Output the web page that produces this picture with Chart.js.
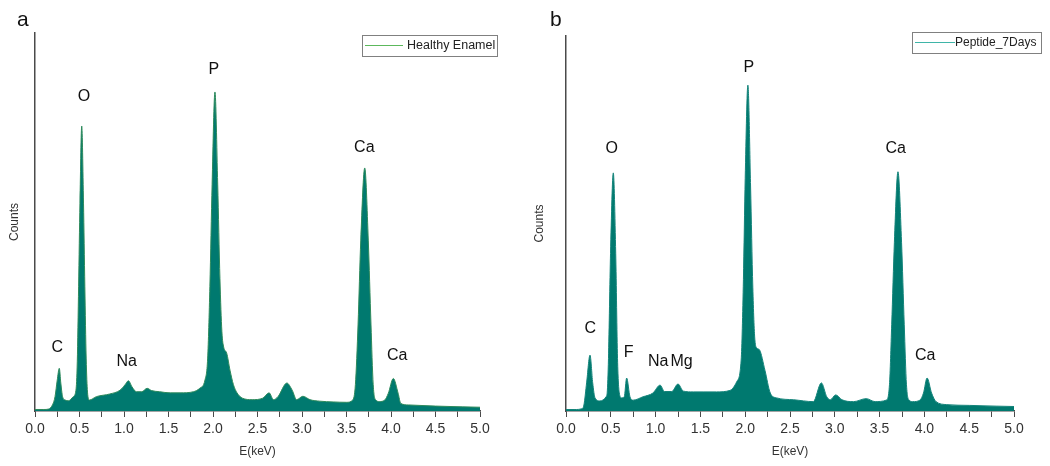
<!DOCTYPE html>
<html>
<head>
<meta charset="utf-8">
<script src="https://cdn.jsdelivr.net/npm/chart.js@4.4.1/dist/chart.umd.min.js"></script>
<style>
  body { margin: 0; background: #fff; }
  .panel { position: absolute; top: 0; width: 525px; height: 466px; }
  #panelA { left: 0; }
  #panelB { left: 525px; }
</style>
</head>
<body>
<div class="panel" id="panelA"><canvas id="chartA"></canvas></div>
<div class="panel" id="panelB"><canvas id="chartB"></canvas></div>
<script>
// x ticks (keV)
const tickLabels = ['0.0', '0.5', '1.0', '1.5', '2.0', '2.5', '3.0', '3.5', '4.0', '4.5', '5.0'];

// panel a: Healthy Enamel spectrum (energy keV, counts in % of axis height)
const energyA = [0, 0.10, 0.15, 0.20, 0.225, 0.25, 0.273, 0.29, 0.31, 0.34, 0.374, 0.43, 0.46, 0.475, 0.49, 0.505,
  0.525, 0.545, 0.56, 0.575, 0.59, 0.61, 0.69, 0.84, 0.955, 1.01, 1.05, 1.09, 1.14, 1.2, 1.26, 1.31, 1.40, 1.52, 1.63, 1.78,
  1.85, 1.91, 1.94, 1.965, 1.99, 2.022, 2.053, 2.078, 2.10, 2.12, 2.154, 2.191, 2.229, 2.27, 2.33, 2.44, 2.56, 2.63,
  2.68, 2.73, 2.83, 2.89, 2.94, 3.01, 3.09, 3.2, 3.35, 3.5, 3.57, 3.60, 3.63, 3.66, 3.705, 3.745, 3.775, 3.80, 3.83,
  3.87, 3.93, 3.97, 4.026, 4.08, 4.11, 4.2, 4.5, 4.8, 5.0];
const countsA = [0.4, 0.4, 0.5, 1.8, 3.8, 8.2, 11.3, 7.4, 3.8, 2.9, 2.7, 3.8, 5.5, 13, 33, 55,
  75.4, 55, 33, 14, 5, 2.9, 3.8, 4.5, 5.5, 6.9, 8.0, 6.4, 5.1, 5.1, 6.0, 5.4, 5.1, 4.8, 4.8, 5.1,
  6.0, 8.2, 14, 33, 60, 84.4, 60, 35, 21, 16.9, 15.3, 10.8, 7.0, 4.8, 3.4, 3.0, 3.4, 4.8,
  3.0, 3.8, 7.4, 5.5, 3.0, 3.9, 3.0, 2.6, 2.4, 2.3, 2.9, 7, 23, 45, 64.3, 45, 23, 7, 2.9,
  2.5, 2.9, 4.7, 8.6, 4.7, 2.0, 1.6, 1.3, 1.1, 1.0];

// panel b: Peptide_7Days spectrum
const energyB = [0, 0.10, 0.175, 0.20, 0.23, 0.268, 0.298, 0.324, 0.38, 0.447, 0.46, 0.474, 0.497, 0.528, 0.555, 0.575,
  0.595, 0.62, 0.65, 0.677, 0.714, 0.75, 0.86, 0.97, 1.05, 1.1, 1.18, 1.25, 1.31, 1.42, 1.53, 1.68, 1.83, 1.905, 1.955,
  1.98, 2.0, 2.03, 2.06, 2.085, 2.108, 2.13, 2.16, 2.22, 2.28, 2.35, 2.54, 2.76, 2.85, 2.91, 2.95, 3.01, 3.08, 3.21,
  3.35, 3.45, 3.575, 3.61, 3.635, 3.665, 3.705, 3.745, 3.775, 3.80, 3.83, 3.87, 3.95, 3.99, 4.03, 4.08, 4.13, 4.25, 4.5,
  4.8, 5.0];
const countsB = [0.4, 0.4, 0.6, 1.6, 7.5, 14.9, 7.5, 3.5, 2.7, 3.8, 5, 14, 42, 63.5, 42, 14,
  4.8, 3.5, 3.8, 8.8, 3.8, 2.9, 3.8, 4.8, 6.9, 5.2, 5.2, 7.2, 5.3, 5.1, 5.1, 5.1, 5.5, 7.8, 13.6,
  35, 62, 86.9, 60, 33, 19, 16.8, 16.3, 10.9, 4.8, 3.5, 3.0, 2.5, 7.5, 3.8, 3.0, 4.3, 3.0, 2.5,
  3.3, 2.5, 2.9, 7, 23, 45, 63.8, 45, 23, 7, 2.9, 2.5, 2.9, 4.8, 8.8, 4.8, 2.5, 1.7, 1.5,
  1.3, 1.2];

// element labels (text, energy, height)
const labelsA = ['C', 'O', 'Na', 'P', 'Ca', 'Ca'];
const labelEA = [0.25, 0.55, 1.03, 2.01, 3.70, 4.07];
const labelYA = [16.9, 83.3, 13.0, 90.2, 69.8, 14.6];

const labelsB = ['C', 'O', 'F', 'Na', 'Mg', 'P', 'Ca', 'Ca'];
const labelEB = [0.27, 0.51, 0.70, 1.03, 1.29, 2.04, 3.68, 4.01];
const labelYB = [22.1, 70.1, 15.7, 13.1, 13.3, 91.5, 70.1, 14.7];

const FONT = 'Liberation Sans, Arial, sans-serif';
const AXIS = '#4a4a4a';
const FILL = '#00796f';

// draws element labels, panel letter and the framed legend
const decorPlugin = {
  id: 'decor',
  afterDatasetsDraw(chart, args, opts) {
    const ctx = chart.ctx;
    const xs = chart.scales.x, ys = chart.scales.y;
    ctx.save();
    ctx.fillStyle = '#111';
    ctx.font = '16px ' + FONT;
    ctx.textAlign = 'center';
    ctx.textBaseline = 'middle';
    opts.names.forEach((n, i) => {
      ctx.fillText(n, xs.getPixelForValue(opts.energies[i]), ys.getPixelForValue(opts.heights[i]));
    });

    // panel letter
    ctx.font = '21px ' + FONT;
    ctx.textAlign = 'left';
    ctx.textBaseline = 'alphabetic';
    ctx.fillText(opts.letter, opts.letterX, 26);

    // legend box
    const lg = opts.legend;
    ctx.strokeStyle = '#808080';
    ctx.lineWidth = 1;
    ctx.strokeRect(lg.x + 0.5, lg.y + 0.5, lg.w, lg.h);
    ctx.strokeStyle = opts.legendLine;
    ctx.beginPath();
    ctx.moveTo(lg.x + 3, lg.lineY);
    ctx.lineTo(lg.x + lg.lineW, lg.lineY);
    ctx.stroke();
    ctx.fillStyle = '#222';
    ctx.font = lg.font + 'px ' + FONT;
    ctx.textBaseline = 'middle';
    ctx.fillText(chart.data.datasets[0].label, lg.x + lg.textX, lg.textY);
    ctx.restore();
  }
};

function makeChart(id, energies, counts, name, border, yWidth, pad, decor) {
  const points = energies.map((e, i) => ({ x: e, y: counts[i] }));
  return new Chart(document.getElementById(id), {
    type: 'line',
    data: {
      datasets: [{
        label: name,
        data: points,
        fill: 'origin',
        backgroundColor: FILL,
        borderColor: border,
        borderWidth: 1,
        pointRadius: 0,
        cubicInterpolationMode: 'monotone'
      }]
    },
    plugins: [decorPlugin],
    options: {
      responsive: true,
      maintainAspectRatio: false,
      animation: false,
      layout: { padding: pad },
      plugins: {
        legend: { display: false },
        tooltip: { enabled: false },
        decor: decor
      },
      scales: {
        x: {
          type: 'linear',
          min: 0,
          max: 5,
          afterFit: s => { s.height = 55; },
          afterBuildTicks: s => {
            const t = [];
            for (let i = 0; i <= 20; i++) t.push({ value: i * 0.25 });
            s.ticks = t;
          },
          ticks: {
            autoSkip: false,
            maxRotation: 0,
            padding: 4,
            color: '#333',
            font: { family: FONT, size: 14 },
            callback: (v) => {
              const k = Math.round(v * 4);
              return k % 2 === 0 ? tickLabels[k / 2] : '';
            }
          },
          grid: { drawOnChartArea: false, drawTicks: true, tickLength: 6, color: AXIS, lineWidth: 1 },
          border: { display: true, color: AXIS, width: 1.5 },
          title: {
            display: true,
            text: 'E(keV)',
            color: '#333',
            font: { family: FONT, size: 12 },
            padding: { top: 0, bottom: 7 }
          }
        },
        y: {
          min: 0,
          max: 100,
          afterFit: s => { s.width = yWidth; },
          ticks: { display: false },
          grid: { drawOnChartArea: false, drawTicks: false },
          border: { display: true, color: AXIS, width: 1.5 },
          title: {
            display: true,
            text: 'Counts',
            color: '#333',
            font: { family: FONT, size: 12 },
            padding: { top: 7, bottom: 0 }
          }
        }
      }
    }
  });
}

makeChart('chartA', energyA, countsA, 'Healthy Enamel', '#2e8a5c', 35,
  { left: 0, right: 45, top: 33, bottom: 0 },
  {
    names: labelsA, energies: labelEA, heights: labelYA, letter: 'a', letterX: 17,
    legendLine: '#5cb85c',
    legend: { x: 362, y: 35, w: 135, h: 21, lineY: 45.5, lineW: 41, textX: 45, textY: 46, font: 12.5 }
  });

makeChart('chartB', energyB, countsB, 'Peptide_7Days', '#14847a', 41,
  { left: 0, right: 36, top: 36, bottom: 0 },
  {
    names: labelsB, energies: labelEB, heights: labelYB, letter: 'b', letterX: 25,
    legendLine: '#3fb5a8',
    legend: { x: 387, y: 32, w: 129, h: 21, lineY: 42.5, lineW: 43, textX: 43, textY: 43, font: 12 }
  });
</script>
</body>
</html>
